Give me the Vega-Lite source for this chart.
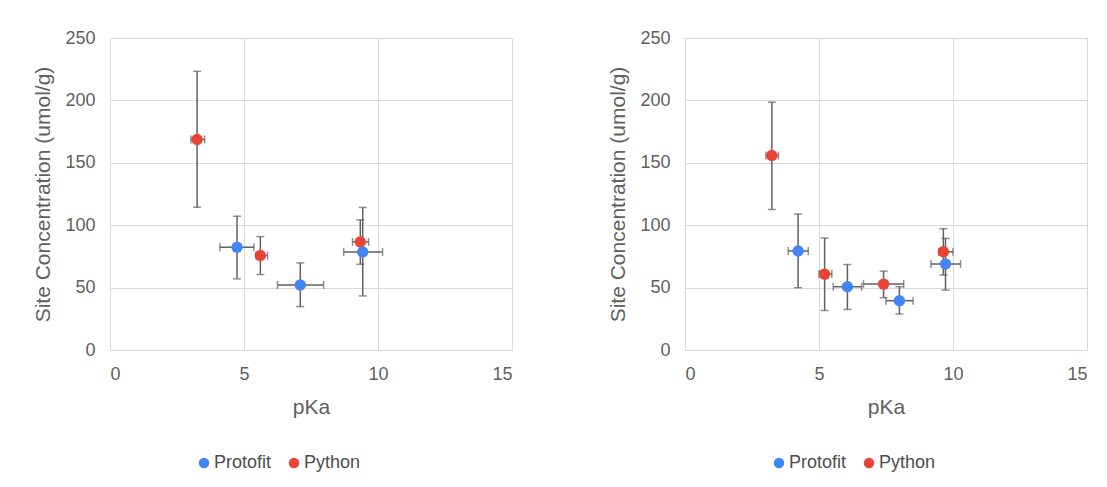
{
  "$schema": "https://vega.github.io/schema/vega-lite/v6.json",
  "background": "white",
  "padding": {"left": 32, "top": 28, "right": 0, "bottom": 0},
  "datasets": {
    "left": [
      {"series": "Python", "pKa": 3.25, "pKa_lo": 3.02, "pKa_hi": 3.53, "conc": 168.7, "conc_lo": 114.4, "conc_hi": 223.3},
      {"series": "Python", "pKa": 5.61, "pKa_lo": 5.45, "pKa_hi": 5.88, "conc": 75.7, "conc_lo": 60.5, "conc_hi": 90.9},
      {"series": "Python", "pKa": 9.34, "pKa_lo": 9.05, "pKa_hi": 9.65, "conc": 86.6, "conc_lo": 68.7, "conc_hi": 104.3},
      {"series": "Protofit", "pKa": 4.74, "pKa_lo": 4.10, "pKa_hi": 5.37, "conc": 82.4, "conc_lo": 57.0, "conc_hi": 107.2},
      {"series": "Protofit", "pKa": 7.10, "pKa_lo": 6.25, "pKa_hi": 7.97, "conc": 52.1, "conc_lo": 34.8, "conc_hi": 69.8},
      {"series": "Protofit", "pKa": 9.43, "pKa_lo": 8.72, "pKa_hi": 10.17, "conc": 78.6, "conc_lo": 43.3, "conc_hi": 114.2}
    ],
    "right": [
      {"series": "Python", "pKa": 3.24, "pKa_lo": 3.02, "pKa_hi": 3.49, "conc": 155.8, "conc_lo": 112.6, "conc_hi": 198.6},
      {"series": "Python", "pKa": 5.21, "pKa_lo": 5.00, "pKa_hi": 5.48, "conc": 60.8, "conc_lo": 31.7, "conc_hi": 89.7},
      {"series": "Python", "pKa": 7.41, "pKa_lo": 6.66, "pKa_hi": 8.16, "conc": 52.8, "conc_lo": 41.9, "conc_hi": 63.2},
      {"series": "Python", "pKa": 9.64, "pKa_lo": 9.47, "pKa_hi": 10.0, "conc": 78.7, "conc_lo": 60.0, "conc_hi": 97.1},
      {"series": "Protofit", "pKa": 4.22, "pKa_lo": 3.85, "pKa_hi": 4.60, "conc": 79.3, "conc_lo": 49.9, "conc_hi": 108.9},
      {"series": "Protofit", "pKa": 6.06, "pKa_lo": 5.53, "pKa_hi": 6.59, "conc": 50.7, "conc_lo": 32.5, "conc_hi": 68.5},
      {"series": "Protofit", "pKa": 8.00, "pKa_lo": 7.50, "pKa_hi": 8.51, "conc": 39.5, "conc_lo": 28.8, "conc_hi": 50.7},
      {"series": "Protofit", "pKa": 9.72, "pKa_lo": 9.18, "pKa_hi": 10.28, "conc": 68.9, "conc_lo": 48.0, "conc_hi": 89.4}
    ]
  },
  "bounds": "flush",
  "spacing": 173,
  "resolve": {"scale": {"color": "independent"}, "legend": {"color": "independent"}},
  "hconcat": [
    {
      "width": 402,
      "height": 312,
      "data": {"name": "left"},
      "layer": [
        {
          "mark": {"type": "errorbar", "ticks": true, "size": 8, "thickness": 1.5, "color": "#616161"},
          "encoding": {
            "x": {"field": "pKa", "type": "quantitative", "title": "pKa", "scale": {"domain": [0, 15], "nice": false}, "axis": {"values": [0, 5, 10, 15]}},
            "y": {"field": "conc_lo", "type": "quantitative", "title": "Site Concentration (umol/g)", "scale": {"domain": [0, 250], "nice": false}, "axis": {"values": [0, 50, 100, 150, 200, 250]}},
            "y2": {"field": "conc_hi"}
          }
        },
        {
          "mark": {"type": "errorbar", "ticks": true, "size": 8, "thickness": 1.5, "color": "#616161"},
          "encoding": {
            "y": {"field": "conc", "type": "quantitative", "title": "Site Concentration (umol/g)"},
            "x": {"field": "pKa_lo", "type": "quantitative", "title": "pKa"},
            "x2": {"field": "pKa_hi"}
          }
        },
        {
          "mark": {"type": "point", "filled": true, "size": 130, "opacity": 1},
          "encoding": {
            "x": {"field": "pKa", "type": "quantitative", "title": "pKa"},
            "y": {"field": "conc", "type": "quantitative", "title": "Site Concentration (umol/g)"},
            "color": {
              "field": "series", "type": "nominal",
              "scale": {"domain": ["Protofit", "Python"], "range": ["#4285F4", "#EA4335"]},
              "legend": {"orient": "none", "legendX": 85, "legendY": 416, "direction": "horizontal", "title": null}
            }
          }
        }
      ]
    },
    {
      "width": 402,
      "height": 312,
      "data": {"name": "right"},
      "layer": [
        {
          "mark": {"type": "errorbar", "ticks": true, "size": 8, "thickness": 1.5, "color": "#616161"},
          "encoding": {
            "x": {"field": "pKa", "type": "quantitative", "title": "pKa", "scale": {"domain": [0, 15], "nice": false}, "axis": {"values": [0, 5, 10, 15]}},
            "y": {"field": "conc_lo", "type": "quantitative", "title": "Site Concentration (umol/g)", "scale": {"domain": [0, 250], "nice": false}, "axis": {"values": [0, 50, 100, 150, 200, 250]}},
            "y2": {"field": "conc_hi"}
          }
        },
        {
          "mark": {"type": "errorbar", "ticks": true, "size": 8, "thickness": 1.5, "color": "#616161"},
          "encoding": {
            "y": {"field": "conc", "type": "quantitative", "title": "Site Concentration (umol/g)"},
            "x": {"field": "pKa_lo", "type": "quantitative", "title": "pKa"},
            "x2": {"field": "pKa_hi"}
          }
        },
        {
          "mark": {"type": "point", "filled": true, "size": 130, "opacity": 1},
          "encoding": {
            "x": {"field": "pKa", "type": "quantitative", "title": "pKa"},
            "y": {"field": "conc", "type": "quantitative", "title": "Site Concentration (umol/g)"},
            "color": {
              "field": "series", "type": "nominal",
              "scale": {"domain": ["Protofit", "Python"], "range": ["#4285F4", "#EA4335"]},
              "legend": {"orient": "none", "legendX": 85, "legendY": 416, "direction": "horizontal", "title": null}
            }
          }
        }
      ]
    }
  ],
  "config": {
    "font": "Liberation Sans",
    "view": {"stroke": "#d9d9d9", "strokeWidth": 1},
    "axis": {
      "grid": true, "gridColor": "#d9d9d9", "gridWidth": 1,
      "ticks": false, "domain": false,
      "labelFontSize": 18, "labelColor": "#5f5f5f", "labelFont": "Liberation Sans",
      "titleFontSize": 21, "titleFontWeight": "normal", "titleColor": "#5f5f5f", "titleFont": "Liberation Sans"
    },
    "axisY": {"labelPadding": 15, "titlePadding": 11},
    "axisX": {"labelPadding": 15, "titlePadding": 13},
    "legend": {
      "symbolType": "circle", "symbolSize": 110, "symbolStrokeWidth": 0,
      "labelFontSize": 18, "labelColor": "#4d4d4d", "labelFont": "Liberation Sans",
      "labelOffset": 1, "columnPadding": 13, "padding": 0
    }
  }
}
